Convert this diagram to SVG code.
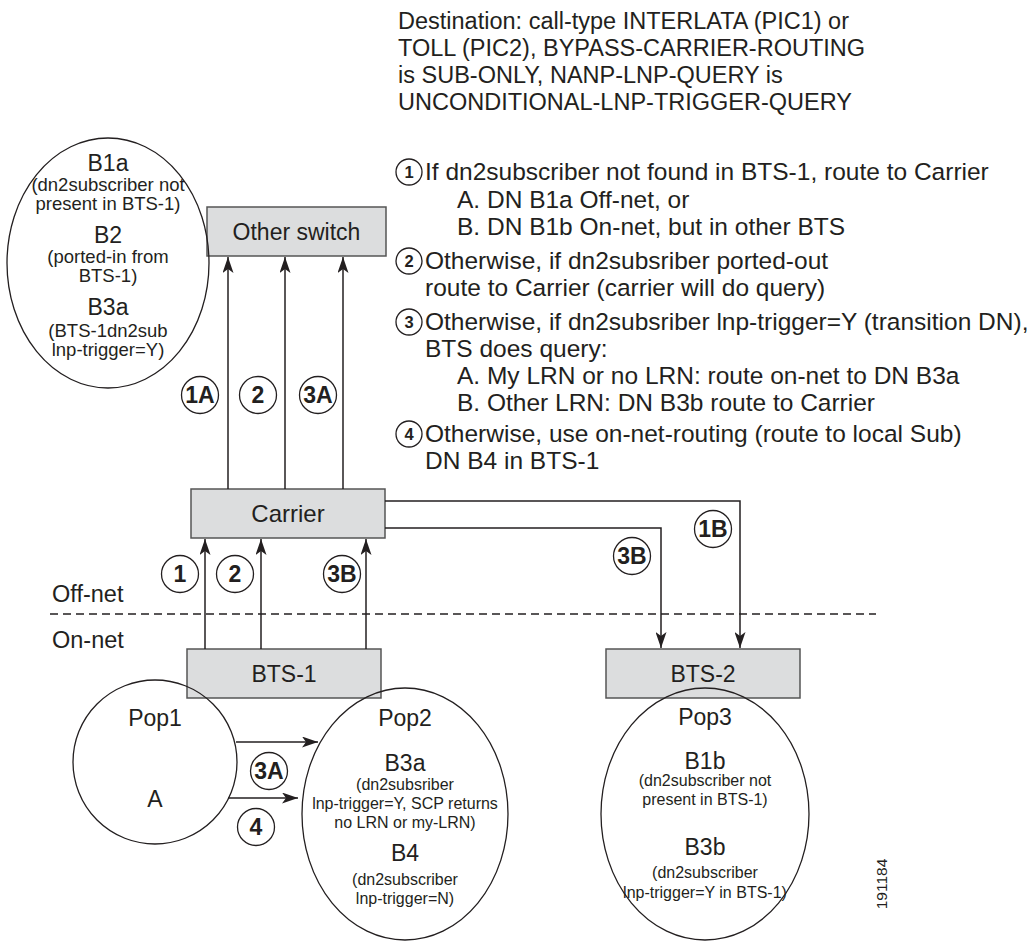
<svg xmlns="http://www.w3.org/2000/svg" width="1034" height="947" viewBox="0 0 1034 947">
<style>
text{font-family:"Liberation Sans",Arial,Helvetica,sans-serif;fill:#231f20}
.big{font-size:23.5px}
.lst{font-size:24.5px}
.lbl{font-size:23px;text-anchor:middle}
.sm{font-size:16px;text-anchor:middle}
.sml{font-size:18.5px;text-anchor:middle}
.box{fill:#dcddde;stroke:#555;stroke-width:1.5}
.ell{fill:none;stroke:#231f20;stroke-width:1.3}
.num{fill:#fff;stroke:#231f20;stroke-width:1.3}
.nt{font-size:23px;font-weight:bold;text-anchor:middle}
.lnt{font-size:16.5px;font-weight:bold;text-anchor:middle}
.ln{fill:none;stroke:#231f20;stroke-width:1.5}
.dash{fill:none;stroke:#231f20;stroke-width:1.3;stroke-dasharray:8,5}
</style>
<defs>
<marker id="ah" viewBox="0 0 16 11" refX="16" refY="5.5" markerWidth="16" markerHeight="11" markerUnits="userSpaceOnUse" orient="auto">
<path d="M0,0 L16,5.5 L0,11 L4,5.5 Z" fill="#231f20"/>
</marker>
</defs>

<g id="header">
<text class="big" x="398" y="29">Destination: call-type INTERLATA (PIC1) or</text>
<text class="big" x="398" y="56">TOLL (PIC2), BYPASS-CARRIER-ROUTING</text>
<text class="big" x="398" y="83">is SUB-ONLY, NANP-LNP-QUERY is</text>
<text class="big" x="398" y="110">UNCONDITIONAL-LNP-TRIGGER-QUERY</text>
</g>

<g id="legend">
<circle class="num" cx="409" cy="172" r="13"/><text class="lnt" x="409" y="178">1</text>
<text class="lst" x="425" y="180">If dn2subscriber not found in BTS-1, route to Carrier</text>
<text class="lst" x="457" y="208">A. DN B1a Off-net, or</text>
<text class="lst" x="457" y="235">B. DN B1b On-net, but in other BTS</text>
<circle class="num" cx="409" cy="261" r="13"/><text class="lnt" x="409" y="267">2</text>
<text class="lst" x="425" y="269">Otherwise, if dn2subsriber ported-out</text>
<text class="lst" x="425" y="296">route to Carrier (carrier will do query)</text>
<circle class="num" cx="409" cy="322" r="13"/><text class="lnt" x="409" y="328">3</text>
<text class="lst" x="425" y="330">Otherwise, if dn2subsriber lnp-trigger=Y (transition DN),</text>
<text class="lst" x="425" y="357">BTS does query:</text>
<text class="lst" x="457" y="384">A. My LRN or no LRN: route on-net to DN B3a</text>
<text class="lst" x="457" y="411">B. Other LRN: DN B3b route to Carrier</text>
<circle class="num" cx="409" cy="434" r="13"/><text class="lnt" x="409" y="440">4</text>
<text class="lst" x="425" y="442">Otherwise, use on-net-routing (route to local Sub)</text>
<text class="lst" x="425" y="469">DN B4 in BTS-1</text>
</g>

<g id="zones">
<line class="dash" x1="50" y1="614" x2="876" y2="614"/>
<text class="big" x="52" y="602">Off-net</text>
<text class="big" x="52" y="648">On-net</text>
</g>

<g id="other-switch">
<rect class="box" x="207" y="207" width="179" height="49"/>
<text class="lbl" x="296.5" y="240">Other switch</text>
</g>

<g id="carrier">
<rect class="box" x="191" y="489" width="194" height="49"/>
<text class="lbl" x="288" y="522" style="font-size:24px">Carrier</text>
</g>

<g id="bts1">
<rect class="box" x="187" y="649" width="194" height="49"/>
<text class="lbl" x="284" y="682">BTS-1</text>
</g>

<g id="bts2">
<rect class="box" x="606" y="649" width="194" height="49"/>
<text class="lbl" x="703" y="682">BTS-2</text>
</g>

<g id="offnet-subs">
<ellipse class="ell" cx="108" cy="263" rx="101" ry="125"/>
<text class="lbl" x="108" y="171">B1a</text>
<text class="sml" x="108" y="191">(dn2subscriber not</text>
<text class="sml" x="108" y="210">present in BTS-1)</text>
<text class="lbl" x="108" y="243">B2</text>
<text class="sml" x="108" y="263">(ported-in from</text>
<text class="sml" x="108" y="282">BTS-1)</text>
<text class="lbl" x="108" y="315">B3a</text>
<text class="sml" x="108" y="337">(BTS-1dn2sub</text>
<text class="sml" x="108" y="356">lnp-trigger=Y)</text>
</g>

<g id="pop1">
<circle class="ell" cx="155" cy="762" r="82"/>
<text class="lbl" x="155" y="726">Pop1</text>
<text class="lbl" x="155" y="807">A</text>
</g>

<g id="pop2">
<ellipse class="ell" cx="405" cy="814" rx="103" ry="126"/>
<text class="lbl" x="405" y="726">Pop2</text>
<text class="lbl" x="405" y="771">B3a</text>
<text class="sm" x="405" y="790">(dn2subsriber</text>
<text class="sm" x="405" y="809">lnp-trigger=Y, SCP returns</text>
<text class="sm" x="405" y="828">no LRN or my-LRN)</text>
<text class="lbl" x="405" y="861">B4</text>
<text class="sm" x="405" y="885">(dn2subscriber</text>
<text class="sm" x="405" y="904">lnp-trigger=N)</text>
</g>

<g id="pop3">
<ellipse class="ell" cx="705" cy="814" rx="104" ry="126"/>
<text class="lbl" x="705" y="725">Pop3</text>
<text class="lbl" x="705" y="769">B1b</text>
<text class="sm" x="705" y="786">(dn2subscriber not</text>
<text class="sm" x="705" y="805">present in BTS-1)</text>
<text class="lbl" x="705" y="855">B3b</text>
<text class="sm" x="705" y="878">(dn2subscriber</text>
<text class="sm" x="705" y="898">lnp-trigger=Y in BTS-1)</text>
</g>

<g id="connectors">
<line class="ln" x1="228" y1="489" x2="228" y2="257" marker-end="url(#ah)"/>
<line class="ln" x1="285" y1="489" x2="285" y2="257" marker-end="url(#ah)"/>
<line class="ln" x1="343" y1="489" x2="343" y2="257" marker-end="url(#ah)"/>
<line class="ln" x1="205" y1="649" x2="205" y2="539" marker-end="url(#ah)"/>
<line class="ln" x1="261" y1="649" x2="261" y2="539" marker-end="url(#ah)"/>
<line class="ln" x1="366" y1="649" x2="366" y2="539" marker-end="url(#ah)"/>
<path class="ln" d="M385,501 H740 V648" marker-end="url(#ah)"/>
<path class="ln" d="M385,528 H661 V648" marker-end="url(#ah)"/>
<line class="ln" x1="236" y1="742" x2="318" y2="742" marker-end="url(#ah)"/>
<line class="ln" x1="228" y1="798" x2="298" y2="798" marker-end="url(#ah)"/>
</g>

<g id="step-labels">
<circle class="num" cx="200" cy="395" r="18.5"/><text class="nt" x="200" y="403">1A</text>
<circle class="num" cx="258" cy="395" r="18.5"/><text class="nt" x="258" y="403">2</text>
<circle class="num" cx="318" cy="395" r="18.5"/><text class="nt" x="318" y="403">3A</text>
<circle class="num" cx="180" cy="574" r="18.5"/><text class="nt" x="180" y="582">1</text>
<circle class="num" cx="235" cy="574" r="18.5"/><text class="nt" x="235" y="582">2</text>
<circle class="num" cx="342" cy="574" r="18.5"/><text class="nt" x="342" y="582">3B</text>
<circle class="num" cx="632" cy="556" r="18.5"/><text class="nt" x="632" y="564">3B</text>
<circle class="num" cx="713" cy="529" r="18.5"/><text class="nt" x="713" y="537">1B</text>
<circle class="num" cx="269" cy="771" r="18.5"/><text class="nt" x="269" y="779">3A</text>
<circle class="num" cx="256" cy="827" r="18.5"/><text class="nt" x="256" y="835">4</text>
</g>

<text x="0" y="0" transform="translate(887,884) rotate(-90)" style="font-size:15.5px;text-anchor:middle">191184</text>
</svg>
